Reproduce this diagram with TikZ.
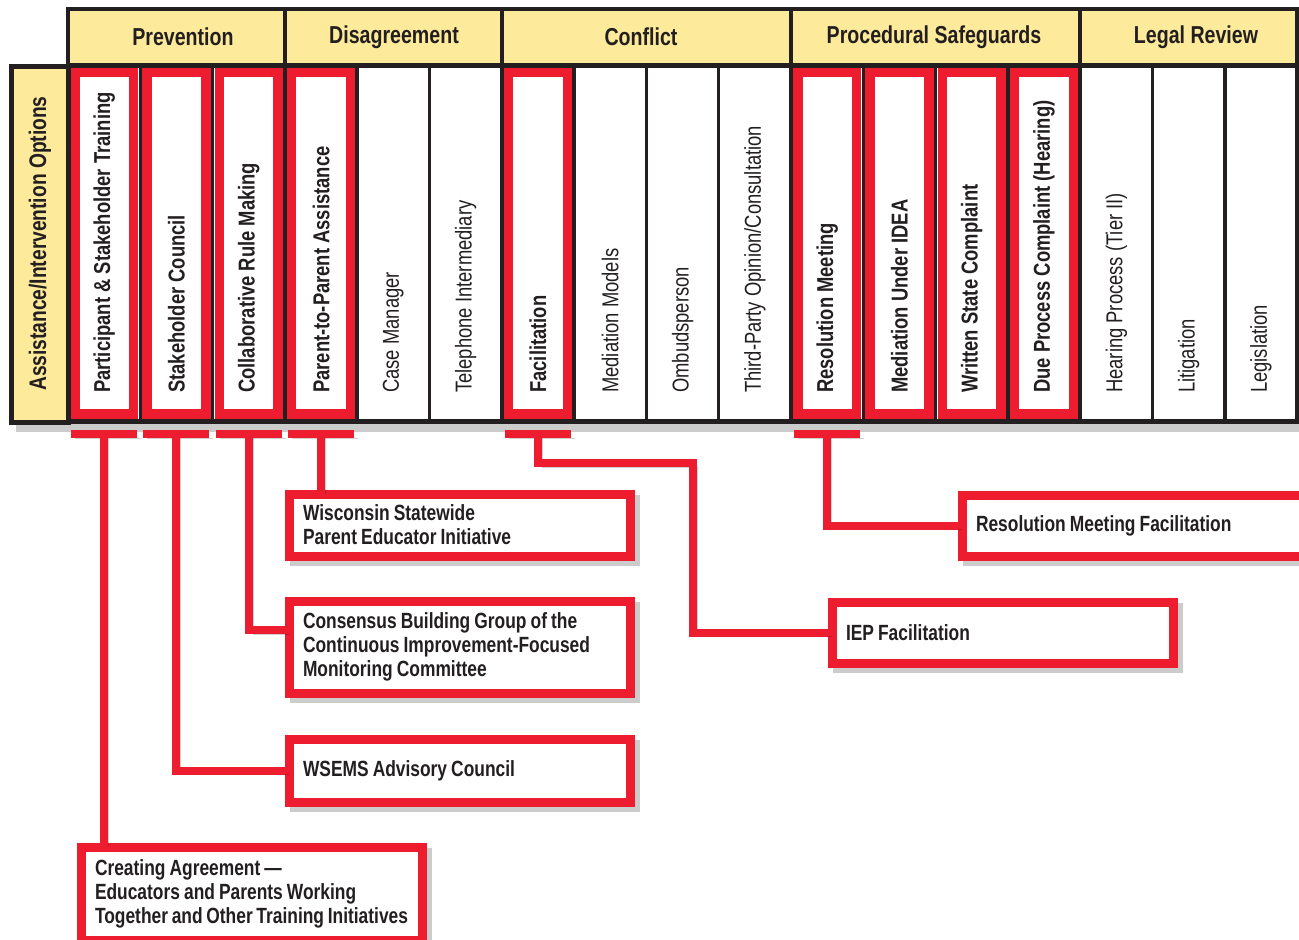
\documentclass[tikz,border=0pt]{standalone}
\usepackage{fontspec}
\newfontfamily\narrowfont{Liberation Sans}[FakeStretch=0.8]
\newfontfamily\boxfont{Liberation Sans}[FakeStretch=0.79, WordSpace=0.85]
\usetikzlibrary{calc,shadows}
\definecolor{headyellow}{RGB}{253,234,154}
\definecolor{boxred}{RGB}{237,28,46}
\definecolor{inkblack}{RGB}{35,31,32}
\tikzset{
  rule/.style={draw=inkblack, line width=3.5pt},
  colhead/.style={font=\narrowfont\bfseries\fontsize{24.5}{26}\selectfont, text=inkblack},
  hltext/.style={rotate=90, anchor=west, inner sep=0pt, text=inkblack,
    font=\narrowfont\bfseries\fontsize{23}{24}\selectfont},
  pltext/.style={hltext, font=\narrowfont\fontsize{23}{24}\selectfont},
  frame/.style={draw=boxred, line width=9.5pt, fill=white},
  box/.style={draw=boxred, line width=9pt, fill=white, anchor=north west,
    inner xsep=14pt, inner ysep=0pt, text width=313pt, align=flush left, text=inkblack,
    font=\boxfont\bfseries\fontsize{22}{24}\selectfont,
    drop shadow={shadow xshift=5pt, shadow yshift=-5pt, fill=none, draw=black, line width=9pt, opacity=.2}},
  wire/.style={draw=boxred, line width=8pt,
    preaction={draw=black, opacity=.18, transform canvas={shift={(4pt,-4pt)}}}}
}
\begin{document}
\begin{tikzpicture}[x=1pt, y=-1pt]
\useasboundingbox (0,0) rectangle (1299,940);

\fill[black, opacity=.2] (16,424) rectangle (1299,432);
\draw[rule, line width=4pt, fill=headyellow] (68,9) rectangle (1297,65);
\foreach \j in {3,6,10,14} \draw[rule, line width=4pt] (68+72.3*\j,9) -- (68+72.3*\j,65);
\node[colhead] (prevention) at (183,37) {Prevention};
\node[colhead] (disagreement) at (394,37) {Disagreement};
\node[colhead] (conflict) at (641,37) {Conflict};
\node[colhead] (safeguards) at (934,37) {Procedural Safeguards};
\node[colhead] (review) at (1196,37) {Legal Review};

\draw[rule, line width=5pt, fill=headyellow] (11,66) rectangle (68,422);
\node[hltext, font=\narrowfont\bfseries\fontsize{24}{26}\selectfont] (options) at (40,391) {Assistance/Intervention Options};

\fill[white] (68,65) rectangle (1297,421);
\foreach \i in {1,2,3,4,7,11,12,13,14}
  \draw[frame] (68+72.3*\i-72.3+6.75,72.25) rectangle (68+72.3*\i-6.75,413.75);
\foreach \j in {1,...,16} \draw[rule] (68+72.3*\j,65) -- (68+72.3*\j,421);
\draw[rule, line width=5pt] (68,65) rectangle (1297,421);

\foreach \i/\k/\t in {
  1/hltext/{Participant \& Stakeholder Training},
  2/hltext/{Stakeholder Council},
  3/hltext/{Collaborative Rule Making},
  4/hltext/{Parent-to-Parent Assistance},
  5/pltext/{Case Manager},
  6/pltext/{Telephone Intermediary},
  7/hltext/{Facilitation},
  8/pltext/{Mediation Models},
  9/pltext/{Ombudsperson},
  10/pltext/{Third-Party Opinion/Consultation},
  11/hltext/{Resolution Meeting},
  12/hltext/{Mediation Under IDEA},
  13/hltext/{Written State Complaint},
  14/hltext/{Due Process Complaint (Hearing)},
  15/pltext/{Hearing Process (Tier II)},
  16/pltext/{Litigation},
  17/pltext/{Legislation}}
  \node[\k] (opt\i) at (68+72.3*\i-36.15,393) {\t};

\node[box, minimum height=62pt] (wisconsin) at (284.5,489.5)
  {Wisconsin Statewide\\Parent Educator Initiative};
\node[box, minimum height=92pt] (consensus) at (284.5,596.5)
  {Consensus Building Group of the\\Continuous Improvement-Focused\\Monitoring Committee};
\node[box, minimum height=63pt] (wsems) at (284.5,734.5) {WSEMS Advisory Council};
\node[box, minimum height=93pt] (creating) at (76.5,842.5)
  {Creating Agreement —\\Educators and Parents Working\\Together and Other Training Initiatives};
\node[box, minimum height=61pt] (iep) at (827.5,597.5) {IEP Facilitation};
\node[box, minimum height=61pt] (resolution) at (957.5,490.5) {Resolution Meeting Facilitation};

\foreach \i in {1,2,3,4,7,11} \coordinate (c\i) at (68+72.3*\i-36.15,434);
\coordinate (bend) at (693,463);
\foreach \i in {1,2,3,4,7,11} \draw[wire] ([xshift=-33pt]c\i) -- ([xshift=33pt]c\i);
\draw[wire] (c1) -- (c1 |- creating.north);
\draw[wire] (c2) |- (wsems.west);
\draw[wire] (c3) |- ([yshift=17pt]consensus.west);
\draw[wire] (c4) -- (c4 |- wisconsin.north);
\draw[wire] (c7) |- (bend) |- (iep.west);
\draw[wire] (c11) |- (resolution.west);
\end{tikzpicture}
\end{document}
